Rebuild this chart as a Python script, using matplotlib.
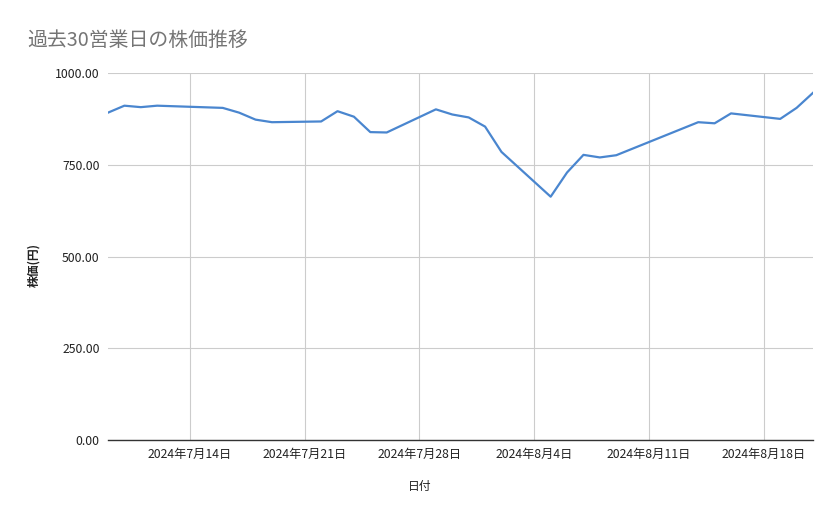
import matplotlib
matplotlib.use('Agg')
import matplotlib.pyplot as plt
import matplotlib.dates as mdates
import numpy as np
import pandas as pd

plt.rcParams['font.family'] = ['Noto Sans CJK JP', 'DejaVu Sans']

# 過去30営業日の株価
dates = ['2024-07-09', '2024-07-10', '2024-07-11', '2024-07-12',
         '2024-07-16', '2024-07-17', '2024-07-18', '2024-07-19',
         '2024-07-22', '2024-07-23', '2024-07-24', '2024-07-25', '2024-07-26',
         '2024-07-29', '2024-07-30', '2024-07-31', '2024-08-01', '2024-08-02',
         '2024-08-05', '2024-08-06', '2024-08-07', '2024-08-08', '2024-08-09',
         '2024-08-13', '2024-08-14', '2024-08-15', '2024-08-16',
         '2024-08-19', '2024-08-20', '2024-08-21']
prices = [892, 911, 907, 911,
          905, 892, 873, 866,
          868, 896, 881, 839, 838,
          901, 887, 879, 854, 785,
          663, 729, 777, 770, 776,
          848, 866, 863, 890,
          875, 905, 946]
yticks = [0, 250, 500, 750, 1000]

x = pd.to_datetime(dates)

fig = plt.figure(figsize=(8.39, 5.19), dpi=100)
ax = fig.add_axes([0.1287, 0.1522, 0.8403, 0.7071])

ax.plot(x, prices, color='#4a86cf', linewidth=1.6)

ax.set_xlim(x[0], x[-1])
ax.set_ylim(0, 1000)
ax.set_yticks(yticks)
ax.set_yticklabels([f'{v:.2f}' for v in yticks])

ax.xaxis.set_major_locator(mdates.WeekdayLocator(byweekday=mdates.SU))
ax.xaxis.set_major_formatter(
    plt.FuncFormatter(lambda v, p: f'{mdates.num2date(v).year}年{mdates.num2date(v).month}月{mdates.num2date(v).day}日'))

ax.grid(True, color='#cccccc', linewidth=0.8)
ax.set_axisbelow(True)
for s in ['top', 'right', 'left']:
    ax.spines[s].set_visible(False)
ax.spines['bottom'].set_color('#333333')
ax.spines['bottom'].set_linewidth(1.0)
ax.tick_params(axis='both', length=0, labelsize=8.8, colors='#222222')
ax.tick_params(axis='x', pad=6)
ax.tick_params(axis='y', pad=6)

fig.text(0.032, 0.923, '過去30営業日の株価推移', fontsize=14.3, color='#757575', ha='left', va='center')
fig.text(0.5, 0.062, '日付', fontsize=8.5, color='#222222', ha='center', va='center')
fig.text(0.040, 0.49, '株価(円)', fontsize=8.5, color='#222222', ha='center', va='center',
         rotation=90, fontweight='bold')

fig.savefig('out.png', dpi=100)
